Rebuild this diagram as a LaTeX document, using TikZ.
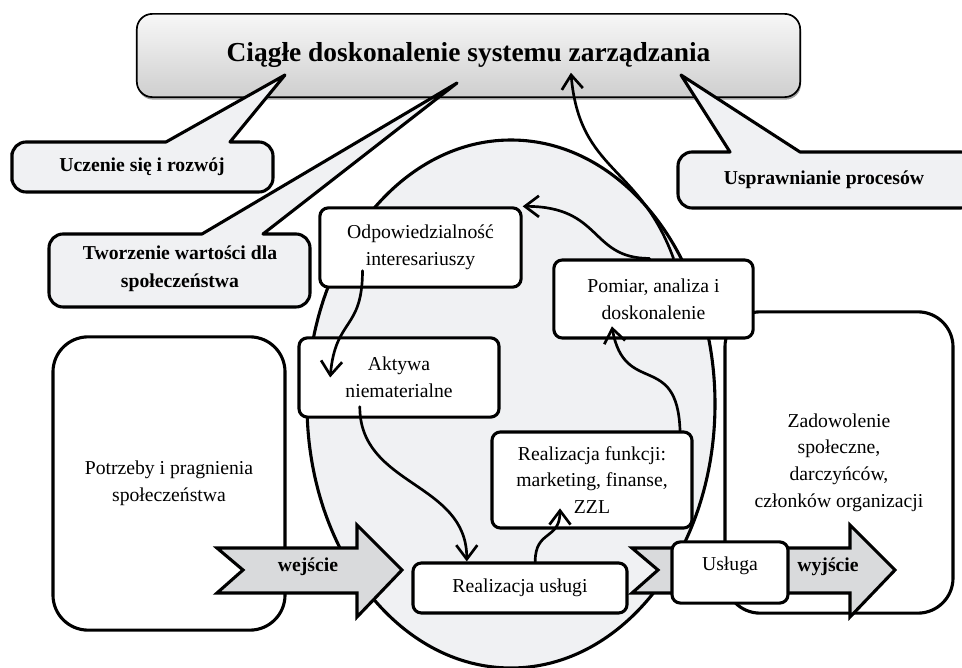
\documentclass[tikz,border=0pt]{standalone}
\usepackage{fontspec}
\setmainfont{Liberation Serif}
\usetikzlibrary{arrows.meta,shadows}
\definecolor{jasny}{HTML}{F0F1F3}
\definecolor{strzalka}{HTML}{D9DADC}

\begin{document}
\begin{tikzpicture}[x=0.025cm,y=-0.025cm,>={Straight Barb[length=10pt,width=15pt]},line join=round,
	ramka/.style={draw,line width=2.2pt,fill=white,rounded corners=6pt,align=center,font=\fontsize{14}{19}\selectfont,inner sep=2pt},
	duza/.style={ramka,rounded corners=25pt},
	dymek/.style={draw,line width=2.2pt,fill=jasny},
	pogrubiony/.style={font=\fontsize{14}{20}\selectfont\bfseries,align=center},
	blok/.style={draw,line width=2.2pt,fill=strzalka,line join=miter},
	laczy/.style={->,line width=1.9pt,line cap=round}]
	\clip (0,0) rectangle (962,668);
	% owal w tle
	\draw[line width=2.2pt,fill=jasny] (511,404) ellipse [x radius=204, y radius=264];
	% wejscie i wyjscie
	\node[duza,minimum width=5.8cm,minimum height=7.33cm] (potrzeby) at (169,483.5) {Potrzeby i pragnienia\\społeczeństwa};
	\node[duza,minimum width=5.7cm,minimum height=7.53cm] (zadowolenie) at (839,462.5) {Zadowolenie\\społeczne,\\darczyńców,\\członków organizacji};
	% tytul
	\node[draw,line width=1.2pt,rounded corners=11pt,top color=gray!6,bottom color=gray!38,
		drop shadow={shadow xshift=0.6pt,shadow yshift=-1.8pt,fill=black!75},
		minimum width=16.58cm,minimum height=2.08cm,font=\fontsize{19.5}{24}\selectfont\bfseries] (tytul) at (468.5,55.5) {Ciągłe doskonalenie systemu zarządzania};
	% dymki
	\draw[dymek] (12,167) [rounded corners=10pt] -- (12,142) [sharp corners] -- (166,142) -- (285,75) -- (230,142) [rounded corners=10pt] -- (273,142) -- (273,192) -- (12,192) -- cycle;
	\draw[dymek] (49,270) [rounded corners=10pt] -- (49,234) [sharp corners] -- (202,234) -- (457,83) -- (263,234) [rounded corners=10pt] -- (310,234) -- (310,307) -- (49,307) -- cycle;
	\draw[dymek] (678,180) [rounded corners=10pt] -- (678,152) [sharp corners] -- (730,152) -- (681,75) -- (800,152) [rounded corners=10pt] -- (975,152) -- (975,208) -- (678,208) -- cycle;
	\node[pogrubiony] (uczenie) at (142,167) {Uczenie się i rozwój};
	\node[pogrubiony] (tworzenie) at (180,269) {Tworzenie wartości dla\\społeczeństwa};
	\node[pogrubiony] (usprawnianie) at (824,180) {Usprawnianie procesów};
	% prostokaty w owalu
	\node[ramka,minimum width=5.03cm,minimum height=1.98cm] (odp) at (420.5,247.5) {Odpowiedzialność\\interesariuszy};
	\node[ramka,minimum width=4.98cm,minimum height=1.95cm] (pomiar) at (653.5,299) {Pomiar, analiza i\\doskonalenie};
	\node[ramka,minimum width=5cm,minimum height=1.98cm] (aktywa) at (399,377.5) {Aktywa\\niematerialne};
	\node[ramka,minimum width=5cm,minimum height=2.4cm] (funkcje) at (592,480) {Realizacja funkcji:\\marketing, finanse,\\ZZL};
	\node[ramka,minimum width=5.35cm,minimum height=1.25cm] (rus) at (520,588) {Realizacja usługi};
	% strzalki blokowe
	\draw[blok] (217,548) -- (243,570) -- (217,593) -- (357,593) -- (357,617) -- (402,570) -- (357,525) -- (357,548) -- cycle;
	\node[pogrubiony] (wejscie) at (308,567) {wejście};
	\draw[blok] (632,548) -- (658,570) -- (632,593) -- (850,593) -- (850,617) -- (895,570) -- (850,525) -- (850,548) -- cycle;
	\node[pogrubiony] (wyjscie) at (828,567) {wyjście};
	\node[ramka,minimum width=2.9cm,minimum height=1.53cm,text depth=13pt] (usluga) at (730,572.5) {Usługa};
	% polaczenia
	\draw[laczy] ([xshift=0.5cm]pomiar.north) .. controls +(110:2.5cm) and +(-85:2.5cm) .. ([shift={(2.56cm,0.63cm)}]tytul.south);
	\draw[laczy] ([xshift=-0.1cm]pomiar.north) .. controls +(180:1.5cm) and +(0:2cm) .. (odp.north east);
	\draw[laczy] ([shift={(-1.45cm,0.45cm)}]odp.south) .. controls +(-90:1.5cm) and +(85:1.5cm) .. ([xshift=-1.72cm]aktywa.center);
	\draw[laczy] ([shift={(-0.98cm,0.3cm)}]aktywa.south) .. controls +(-90:2cm) and +(90:2cm) .. ([xshift=-1.33cm]rus.north);
	\draw[laczy] ([xshift=0.38cm]rus.north) .. controls +(90:0.8cm) and +(-90:0.8cm) .. ([shift={(-0.8cm,0.53cm)}]funkcje.south);
	\draw[laczy] ([xshift=2.2cm]funkcje.north) .. controls +(92:2cm) and +(-80:1.8cm) .. ([shift={(-1.04cm,0.33cm)}]pomiar.south);
\end{tikzpicture}
\end{document}
